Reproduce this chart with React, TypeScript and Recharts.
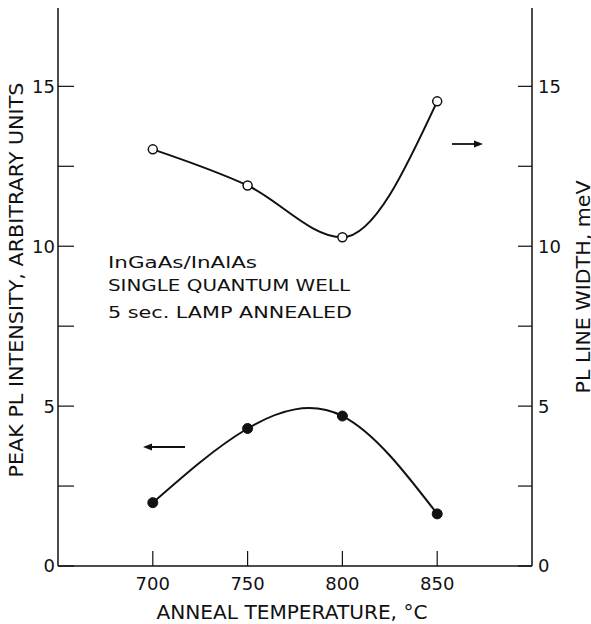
import { ComposedChart, Customized, Line, XAxis, YAxis } from "recharts";

// anneal temperatures (deg C)
const temps = [700, 750, 800, 850];
// peak PL intensity, arbitrary units (left axis, filled dots)
const peakIntensity = [1.98, 4.3, 4.69, 1.63];
// PL line width, meV (right axis, open dots)
const lineWidth = [13.03, 11.9, 10.28, 14.53];

const xTicks = [700, 750, 800, 850];
const yTicks = [0, 2.5, 5, 7.5, 10, 12.5, 15];
const noteLines = ["InGaAs/InAlAs", "SINGLE QUANTUM WELL", "5 sec. LAMP ANNEALED"];

const data = temps.map((t, i) => ({
  temp: t,
  intensity: peakIntensity[i],
  width: lineWidth[i],
}));

const INK = "#111";
const FONT = "'DejaVu Sans', sans-serif";

const tickFmt = (v: number) => (v % 5 === 0 ? String(v) : "");

function Annotations() {
  return (
    <g fill={INK} fontFamily={FONT}>
      {/* axis titles */}
      <text
        x={23}
        y={280}
        fontSize={20}
        textAnchor="middle"
        textLength={395}
        lengthAdjust="spacingAndGlyphs"
        transform="rotate(-90 23 280)"
      >
        PEAK PL INTENSITY, ARBITRARY UNITS
      </text>
      <text
        x={590}
        y={287}
        fontSize={20}
        textAnchor="middle"
        textLength={213}
        lengthAdjust="spacingAndGlyphs"
        transform="rotate(-90 590 287)"
      >
        PL LINE WIDTH, meV
      </text>
      <text x={292} y={619} fontSize={20} textAnchor="middle" textLength={271} lengthAdjust="spacingAndGlyphs">
        ANNEAL TEMPERATURE, °C
      </text>

      {/* sample note */}
      <text x={108} y={268} fontSize={16} textLength={149} lengthAdjust="spacingAndGlyphs">
        {noteLines[0]}
      </text>
      <text x={108} y={291} fontSize={16} textLength={242} lengthAdjust="spacingAndGlyphs">
        {noteLines[1]}
      </text>
      <text x={108} y={318} fontSize={16} textLength={244} lengthAdjust="spacingAndGlyphs">
        {noteLines[2]}
      </text>

      {/* axis arrows */}
      <line x1={452} y1={144} x2={476} y2={144} stroke={INK} strokeWidth={1.8} />
      <polygon points="483,144 474,140.5 474,147.5" fill={INK} />
      <line x1={150} y1={447} x2={185} y2={447} stroke={INK} strokeWidth={1.8} />
      <polygon points="143,447 152,443.5 152,450.5" fill={INK} />
    </g>
  );
}

export default function App() {
  return (
    <div style={{ position: "absolute", left: 0, top: 0, width: 591, height: 624, background: "#fff" }}>
      <ComposedChart width={591} height={624} data={data} margin={{ top: 8, right: 0, bottom: 0, left: 0 }}>
        <XAxis
          dataKey="temp"
          type="number"
          domain={[650, 900]}
          ticks={xTicks}
          interval={0}
          height={58}
          tickSize={-15}
          tickMargin={26}
          tick={{ fontSize: 18, fill: INK, fontFamily: FONT }}
          axisLine={{ stroke: INK, strokeWidth: 1.5 }}
          tickLine={{ stroke: INK, strokeWidth: 1.2 }}
        />
        <XAxis
          xAxisId="top"
          orientation="top"
          dataKey="temp"
          type="number"
          domain={[650, 900]}
          height={0}
          tick={false}
          tickLine={false}
          axisLine={{ stroke: INK, strokeWidth: 1.5 }}
        />
        <YAxis
          yAxisId="left"
          type="number"
          domain={[0, 17.45]}
          ticks={yTicks}
          interval={0}
          width={58}
          tickSize={-16}
          tickMargin={19}
          tickFormatter={tickFmt}
          tick={{ fontSize: 18, fill: INK, fontFamily: FONT }}
          axisLine={{ stroke: INK, strokeWidth: 1.5 }}
          tickLine={{ stroke: INK, strokeWidth: 1.2 }}
        />
        <YAxis
          yAxisId="right"
          orientation="right"
          type="number"
          domain={[0, 17.45]}
          ticks={yTicks}
          interval={0}
          width={59}
          tickSize={-14}
          tickMargin={20}
          tickFormatter={tickFmt}
          tick={{ fontSize: 18, fill: INK, fontFamily: FONT }}
          axisLine={{ stroke: INK, strokeWidth: 1.5 }}
          tickLine={{ stroke: INK, strokeWidth: 1.2 }}
        />
        <Line
          yAxisId="right"
          dataKey="width"
          type="monotone"
          stroke={INK}
          strokeWidth={2}
          dot={{ r: 4.5, fill: "#fff", stroke: INK, strokeWidth: 1.5 }}
          activeDot={false}
          isAnimationActive={false}
        />
        <Line
          yAxisId="left"
          dataKey="intensity"
          type="natural"
          stroke={INK}
          strokeWidth={2}
          dot={{ r: 5, fill: INK, stroke: INK, strokeWidth: 1 }}
          activeDot={false}
          isAnimationActive={false}
        />
        <Customized component={Annotations} />
      </ComposedChart>
    </div>
  );
}
